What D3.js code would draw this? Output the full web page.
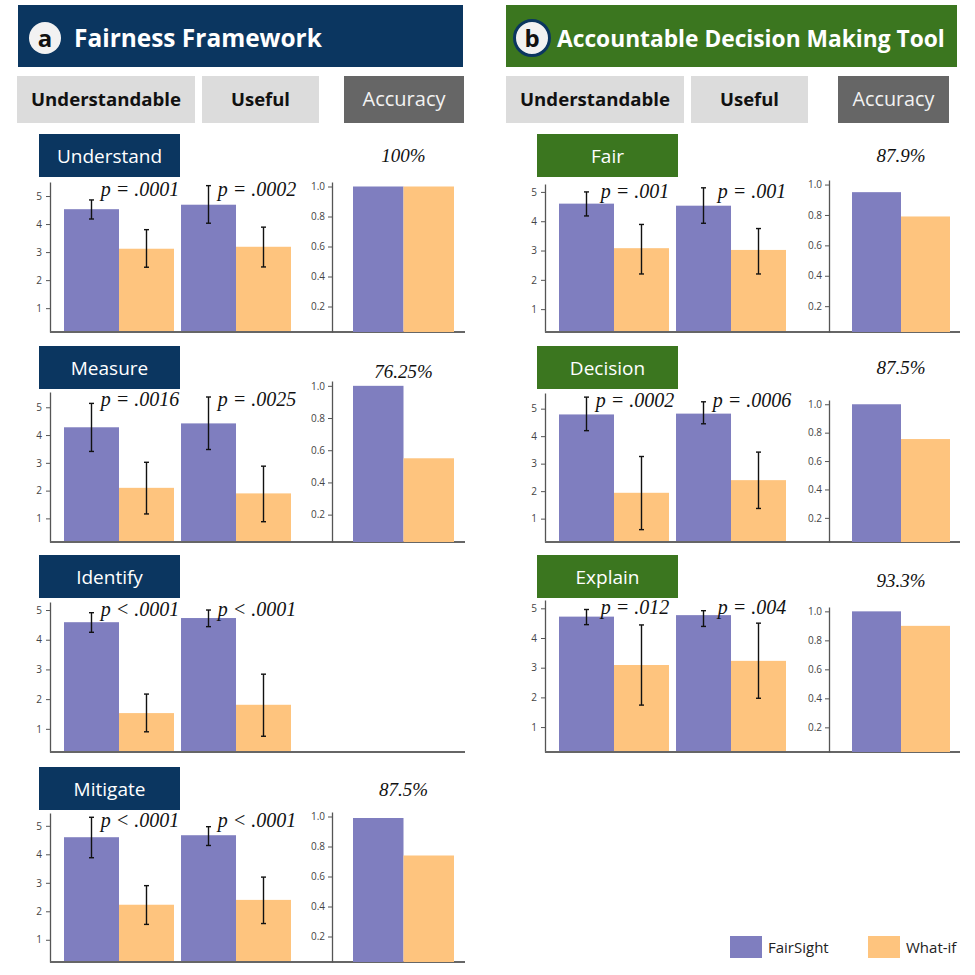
<!DOCTYPE html>
<html>
<head>
<meta charset="utf-8">
<script src="https://cdn.jsdelivr.net/npm/d3@7"></script>
<style>
  body { margin: 0; background: #fff; }
  svg { display: block; }
</style>
</head>
<body>
<div id="chart"></div>
<script>
// ---- data ----
const groups = ["Understandable", "Useful"];
const tools = ["FairSight", "What-if"];
const panelNames = ["Understand", "Measure", "Identify", "Mitigate", "Fair", "Decision", "Explain"];

// mean ratings, [Understandable, Useful]
const fairSightMean = [[4.53, 4.69], [4.28, 4.42], [4.59, 4.73], [4.60, 4.67], [4.60, 4.53], [4.79, 4.82], [4.72, 4.77]];
const whatIfMean    = [[3.12, 3.19], [2.10, 1.90], [1.53, 1.81], [2.23, 2.40], [3.08, 3.02], [1.94, 2.40], [3.09, 3.23]];
// error bar [low, high]
const fairSightErr = [[[4.18, 4.86], [4.03, 5.37]], [[3.41, 5.14], [3.48, 5.37]], [[4.25, 4.91], [4.44, 5.00]],
                      [[3.88, 5.30], [4.31, 4.97]], [[4.18, 5.00], [3.93, 5.14]], [[4.20, 5.42], [4.45, 5.25]],
                      [[4.45, 4.96], [4.39, 4.92]]];
const whatIfErr = [[[2.46, 3.80], [2.47, 3.89]], [[1.16, 3.02], [0.88, 2.88]], [[0.90, 2.17], [0.75, 2.84]],
                   [[1.54, 2.90], [1.57, 3.20]], [[2.20, 3.89], [2.20, 3.75]], [[0.60, 3.26], [1.37, 3.42]],
                   [[1.74, 4.44], [1.97, 4.50]]];
const pValues = [["p = .0001", "p = .0002"], ["p = .0016", "p = .0025"], ["p < .0001", "p < .0001"],
                 ["p < .0001", "p < .0001"], ["p = .001", "p = .001"], ["p = .0002", "p = .0006"],
                 ["p = .012", "p = .004"]];

// accuracy (Identify has none)
const accFairSight = [1.0, 1.0, null, 0.99, 0.95, 1.0, 1.0];
const accWhatIf    = [1.0, 0.55, null, 0.74, 0.79, 0.755, 0.90];
const accLabels    = ["100%", "76.25%", null, "87.5%", "87.9%", "87.5%", "93.3%"];

const ratingTicks = [1, 2, 3, 4, 5];
const accTicks = [0.2, 0.4, 0.6, 0.8, 1.0];

// ---- layout ----
const width = 975, height = 975;
const navy = "#0b3660", green = "#3b761f";
const colors = { "FairSight": "#7f7ebf", "What-if": "#fec47e" };

// where each column lives
const cols = [
    { axisX: 50, groupRange: [64, 291], accAxisX: 332, accRange: [353, 454], right: 465, boxX: 39, color: navy },
    { axisX: 545, groupRange: [559, 786], accAxisX: 829, accRange: [852, 950], right: 960, boxX: 537, color: green }
];
// per panel: column, title box y, chart top/bottom, visible rating range, accuracy top, accuracy label y
const panels = [
    { col: 0, boxY: 134, top: 182, bottom: 332, lo: 0.15, hi: 5.50, accTop: 182, accLabelY: 162 },
    { col: 0, boxY: 346, top: 392, bottom: 542, lo: 0.15, hi: 5.55, accTop: 381, accLabelY: 378 },
    { col: 0, boxY: 555, top: 602, bottom: 752, lo: 0.22, hi: 5.27, accTop: 602, accLabelY: 0 },
    { col: 0, boxY: 767, top: 813, bottom: 962, lo: 0.22, hi: 5.45, accTop: 812, accLabelY: 796 },
    { col: 1, boxY: 134, top: 184, bottom: 332, lo: 0.22, hi: 5.27, accTop: 180, accLabelY: 162 },
    { col: 1, boxY: 346, top: 393, bottom: 542, lo: 0.15, hi: 5.57, accTop: 400, accLabelY: 374 },
    { col: 1, boxY: 555, top: 600, bottom: 752, lo: 0.16, hi: 5.28, accTop: 607, accLabelY: 587 }
];

const sans = "'Open Sans', 'Lato', sans-serif";
const serif = "'Liberation Serif', 'Times New Roman', serif";

const svg = d3.select("#chart").append("svg")
    .attr("width", width)
    .attr("height", height)
    .style("background", "#fff");

// scale a text's font size so it fills a given width
function fitText(sel, w) {
    const len = sel.node().getComputedTextLength();
    const fs = parseFloat(sel.attr("font-size"));
    sel.attr("font-size", fs * w / len);
}

// ---- headers ----
const headers = [
    { x: 18, w: 445, color: navy, letter: "a", title: "Fairness Framework", cx: 45, textX: 74, textW: 248, ring: false },
    { x: 506, w: 451, color: green, letter: "b", title: "Accountable Decision Making Tool", cx: 532, textX: 557, textW: 388, ring: true }
];
headers.forEach(h => {
    svg.append("rect").attr("x", h.x).attr("y", 5).attr("width", h.w).attr("height", 62).attr("fill", h.color);
    svg.append("circle").attr("cx", h.cx).attr("cy", 38).attr("r", h.ring ? 17.5 : 16)
        .attr("fill", "#f2f2f2")
        .attr("stroke", h.ring ? navy : "none").attr("stroke-width", 3);
    svg.append("text").attr("x", h.cx).attr("y", 46.5).attr("text-anchor", "middle")
        .attr("font-family", sans).attr("font-weight", 700).attr("font-size", 24)
        .attr("fill", "#111").text(h.letter);
    svg.append("text").attr("x", h.textX).attr("y", 47)
        .attr("font-family", sans).attr("font-weight", 700).attr("font-size", 24)
        .attr("fill", "#fff").text(h.title)
        .call(fitText, h.textW);
});

// ---- sub headers ----
const subHeaders = [
    { x: 17, w: 178, label: "Understandable", dark: false, tw: 150 },
    { x: 202, w: 117, label: "Useful", dark: false, tw: 59 },
    { x: 344, w: 120, label: "Accuracy", dark: true, tw: 83 },
    { x: 506, w: 178, label: "Understandable", dark: false, tw: 150 },
    { x: 691, w: 117, label: "Useful", dark: false, tw: 59 },
    { x: 838, w: 111, label: "Accuracy", dark: true, tw: 82 }
];
subHeaders.forEach(s => {
    svg.append("rect").attr("x", s.x).attr("y", 76).attr("width", s.w).attr("height", 47)
        .attr("fill", s.dark ? "#666666" : "#dcdcdc");
    svg.append("text").attr("x", s.x + s.w / 2).attr("y", 106).attr("text-anchor", "middle")
        .attr("font-family", sans).attr("font-weight", s.dark ? 400 : 700).attr("font-size", 18)
        .attr("fill", s.dark ? "#f2f2f2" : "#111").text(s.label)
        .call(fitText, s.tw);
});

// ---- panels ----
panels.forEach((p, i) => {
    const c = cols[p.col];
    const g = svg.append("g");

    // title box
    g.append("rect").attr("x", c.boxX).attr("y", p.boxY).attr("width", 141).attr("height", 43).attr("fill", c.color);
    g.append("text").attr("x", c.boxX + 70.5).attr("y", p.boxY + 29).attr("text-anchor", "middle")
        .attr("font-family", sans).attr("font-size", 19).attr("fill", "#fff").text(panelNames[i]);

    const y = d3.scaleLinear().domain([p.lo, p.hi]).range([p.bottom, p.top]);
    const x0 = d3.scaleBand().domain(groups).range(c.groupRange).paddingInner(0.06);
    const x1 = d3.scaleBand().domain(tools).range([0, x0.bandwidth()]);

    const rows = groups.map((grp, j) => ({
        grp: grp,
        p: pValues[i][j],
        bars: [
            { tool: "FairSight", v: fairSightMean[i][j], err: fairSightErr[i][j] },
            { tool: "What-if", v: whatIfMean[i][j], err: whatIfErr[i][j] }
        ]
    }));

    const grpSel = g.selectAll(".grp").data(rows).join("g")
        .attr("class", "grp")
        .attr("transform", d => `translate(${x0(d.grp)},0)`);

    grpSel.selectAll("rect").data(d => d.bars).join("rect")
        .attr("x", d => x1(d.tool))
        .attr("y", d => y(d.v))
        .attr("width", x1.bandwidth())
        .attr("height", d => y(p.lo) - y(d.v))
        .attr("fill", d => colors[d.tool]);

    // error bars
    const eb = grpSel.selectAll(".err").data(d => d.bars).join("g").attr("class", "err")
        .attr("stroke", "#111").attr("stroke-width", 1.4);
    eb.append("line")
        .attr("x1", d => x1(d.tool) + x1.bandwidth() / 2).attr("x2", d => x1(d.tool) + x1.bandwidth() / 2)
        .attr("y1", d => y(d.err[0])).attr("y2", d => y(d.err[1]));
    [0, 1].forEach(k => {
        eb.append("line")
            .attr("x1", d => x1(d.tool) + x1.bandwidth() / 2 - 2.5).attr("x2", d => x1(d.tool) + x1.bandwidth() / 2 + 2.5)
            .attr("y1", d => y(d.err[k])).attr("y2", d => y(d.err[k]));
    });

    // p value labels
    grpSel.append("text")
        .attr("x", x0.bandwidth() / 2 + 21)
        .attr("y", p.top + 14)
        .attr("text-anchor", "middle")
        .attr("font-family", serif).attr("font-style", "italic").attr("font-size", 20)
        .attr("fill", "#111")
        .text(d => d.p);

    // rating axis
    g.append("g")
        .attr("transform", `translate(${c.axisX},0)`)
        .call(d3.axisLeft(y).tickValues(ratingTicks).tickFormat(d3.format("d")).tickSize(4).tickPadding(4).tickSizeOuter(0))
        .call(a => a.select(".domain").attr("stroke", "#555").attr("stroke-width", 1.3))
        .call(a => a.selectAll(".tick line").attr("stroke", "#555"))
        .call(a => a.selectAll(".tick text").attr("font-family", sans).attr("font-size", 10).attr("fill", "#444"));

    // baseline
    g.append("line")
        .attr("x1", c.axisX).attr("x2", c.right)
        .attr("y1", p.bottom).attr("y2", p.bottom)
        .attr("stroke", "#666").attr("stroke-width", 2);

    // accuracy
    if (accLabels[i] !== null) {
        const ya = d3.scaleLinear().domain([0.03, 1.03]).range([p.bottom, p.accTop]);
        const xa = d3.scaleBand().domain(tools).range(c.accRange);
        const accVals = [
            { tool: "FairSight", v: accFairSight[i] },
            { tool: "What-if", v: accWhatIf[i] }
        ];
        g.selectAll(".acc").data(accVals).join("rect")
            .attr("class", "acc")
            .attr("x", d => xa(d.tool))
            .attr("y", d => ya(d.v))
            .attr("width", xa.bandwidth())
            .attr("height", d => ya(0.03) - ya(d.v))
            .attr("fill", d => colors[d.tool]);

        g.append("g")
            .attr("transform", `translate(${c.accAxisX},0)`)
            .call(d3.axisLeft(ya).tickValues(accTicks).tickFormat(d3.format(".1f")).tickSize(4).tickPadding(3).tickSizeOuter(0))
            .call(a => a.select(".domain").attr("stroke", "#555").attr("stroke-width", 1.3))
            .call(a => a.selectAll(".tick line").attr("stroke", "#555"))
            .call(a => a.selectAll(".tick text").attr("font-family", sans).attr("font-size", 10).attr("fill", "#444"));

        g.append("text")
            .attr("x", (c.accRange[0] + c.accRange[1]) / 2)
            .attr("y", p.accLabelY)
            .attr("text-anchor", "middle")
            .attr("font-family", serif).attr("font-style", "italic").attr("font-size", 19)
            .attr("fill", "#111")
            .text(accLabels[i]);
    }
});

// ---- legend ----
const legend = svg.append("g").attr("transform", "translate(730,936)");
const legItems = legend.selectAll("g").data(tools).join("g")
    .attr("transform", (d, i) => `translate(${i * 138},0)`);
legItems.append("rect").attr("width", 32).attr("height", 22).attr("fill", d => colors[d]);
legItems.append("text").attr("x", 38).attr("y", 17)
    .attr("font-family", sans).attr("font-size", 15).attr("fill", "#222")
    .text(d => d);
</script>
</body>
</html>
